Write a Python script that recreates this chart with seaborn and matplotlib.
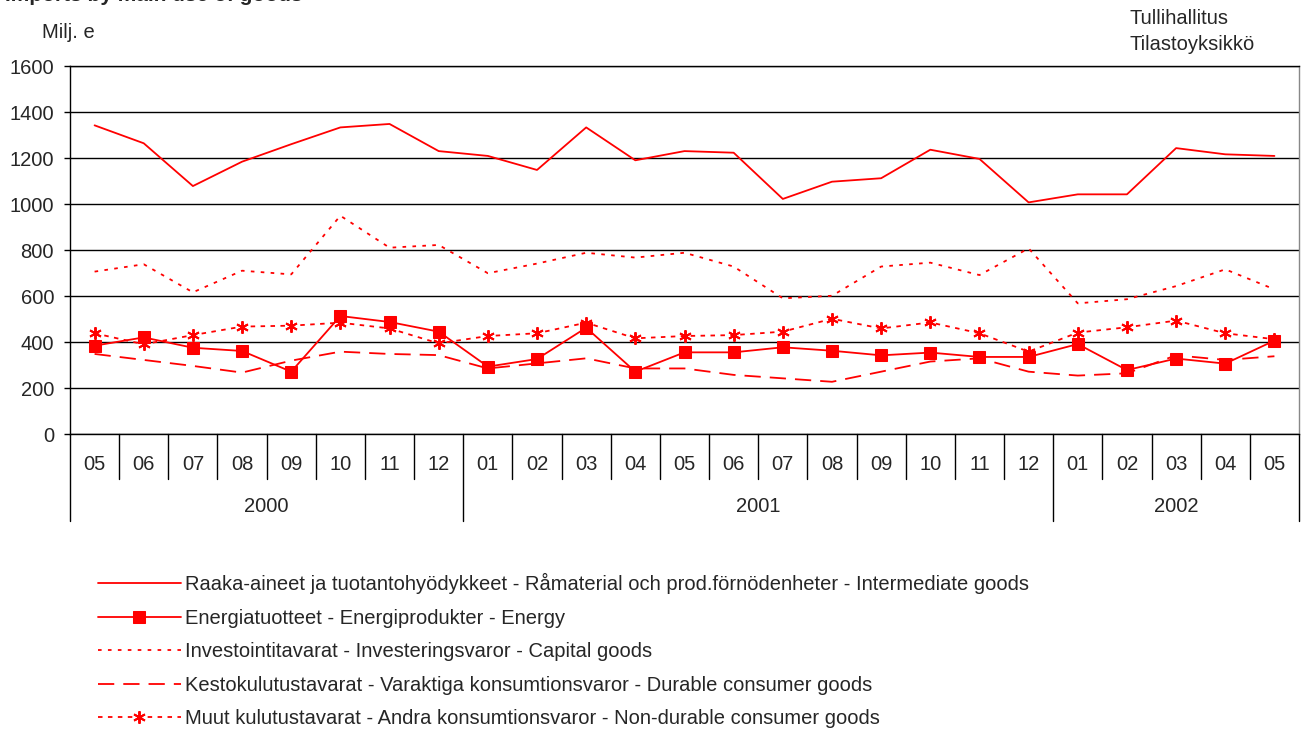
import matplotlib
matplotlib.use("Agg")
import matplotlib.pyplot as plt
import seaborn as sns
import numpy as np
import pandas as pd

months = ["05", "06", "07", "08", "09", "10", "11", "12",
          "01", "02", "03", "04", "05", "06", "07", "08", "09", "10", "11", "12",
          "01", "02", "03", "04", "05"]
years = ["2000", "2001", "2002"]
year_counts = [8, 12, 5]

intermediate = [1342, 1264, 1078, 1184, 1260, 1333, 1348, 1230, 1209, 1148, 1333, 1190,
                1230, 1223, 1022, 1097, 1112, 1236, 1196, 1007, 1042, 1042, 1243, 1216, 1209]
energy = [384, 420, 375, 361, 271, 513, 487, 445, 293, 326, 462, 271,
          355, 355, 377, 362, 342, 354, 335, 335, 391, 278, 328, 306, 406]
capital = [706, 738, 616, 710, 694, 949, 810, 822, 699, 741, 788, 767,
           788, 728, 590, 601, 728, 745, 691, 807, 568, 586, 643, 716, 629]
durable = [348, 322, 296, 267, 319, 358, 348, 343, 285, 307, 329, 285,
           285, 257, 242, 227, 271, 315, 329, 271, 254, 264, 342, 322, 338]
nondurable = [438, 390, 430, 467, 471, 484, 459, 394, 426, 438, 484, 416,
              426, 430, 445, 501, 459, 485, 438, 358, 441, 464, 493, 438, 412]

labels = [
    "Raaka-aineet ja tuotantohyödykkeet - Råmaterial och prod.förnödenheter - Intermediate goods",
    "Energiatuotteet - Energiprodukter - Energy",
    "Investointitavarat - Investeringsvaror - Capital goods",
    "Kestokulutustavarat - Varaktiga konsumtionsvaror - Durable consumer goods",
    "Muut kulutustavarat - Andra konsumtionsvaror - Non-durable consumer goods",
]

sns.set_theme(style="white")
plt.rcParams["font.family"] = ["Liberation Sans", "DejaVu Sans"]
FS = 14.5

W, H = 1308, 729
fig = plt.figure(figsize=(W / 100, H / 100), dpi=100)
x0, x1, ytop, ybot = 70, 1299, 66, 434
ax = fig.add_axes([x0 / W, 1 - ybot / H, (x1 - x0) / W, (ybot - ytop) / H])

xs = np.arange(len(months))
red = "#FF0000"
styles = [
    dict(linestyle="-", marker=None),
    dict(linestyle="-", marker="s", markersize=8),
    dict(linestyle=(0, (2, 3.5)), marker=None),
    dict(linestyle=(0, (9, 5)), marker=None),
    dict(linestyle=(0, (2.5, 3)), marker=(6, 2, 0), markersize=9, markeredgewidth=1.4),
]
series = [intermediate, energy, capital, durable, nondurable]
for vals, lab, st in zip(series, labels, styles):
    sns.lineplot(x=xs, y=vals, ax=ax, color=red, linewidth=1.3, label=lab,
                 markeredgecolor=red, markerfacecolor=red, **st)

ax.set_xlim(-0.5, len(months) - 0.5)
ax.set_ylim(0, 1600)
ax.set_yticks(np.arange(0, 1601, 200))
ax.yaxis.grid(True, color="black", linewidth=1.0)
ax.set_axisbelow(True)
for s in ax.spines.values():
    s.set_color("black")
    s.set_linewidth(1.0)
ax.spines["right"].set_color("#888888")
ax.tick_params(axis="y", direction="out", length=4.5, width=1, color="black",
               pad=7, labelsize=FS, left=True)
ax.set_xticks(xs)
ax.set_xticklabels(months)
ax.tick_params(axis="x", length=0, pad=15, labelsize=FS)
ax.set_xlabel("")
ax.set_ylabel("")

trans = ax.get_xaxis_transform()
axh = ybot - ytop
short = -45 / axh
long = -87 / axh
bounds = np.cumsum([0] + year_counts) - 0.5
for b in np.arange(-0.5, len(months)):
    ln = long if np.any(np.isclose(bounds, b)) else short
    ax.plot([b, b], [0, ln], transform=trans, clip_on=False, color="black", linewidth=1.0)
starts = np.cumsum([0] + year_counts[:-1])
for yr, st_, cnt in zip(years, starts, year_counts):
    ax.text(st_ + (cnt - 1) / 2, -73 / axh, yr, transform=trans, ha="center",
            va="center", fontsize=FS)

leg = ax.legend(loc="upper left", bbox_to_anchor=(98 / W, 1 - 573 / H),
                bbox_transform=fig.transFigure, frameon=False, fontsize=FS,
                handlelength=4.1, labelspacing=0.72, handletextpad=0.2,
                borderaxespad=0, borderpad=0)

fig.text(5 / W, 1 - 1 / H, "Imports by main use of goods", fontsize=15,
         fontweight="bold", ha="left", va="baseline")
fig.text(42 / W, 1 - 32 / H, "Milj. e", fontsize=FS, ha="left", va="center")
fig.text(1130 / W, 1 - 18 / H, "Tullihallitus", fontsize=FS, ha="left", va="center")
fig.text(1130 / W, 1 - 45 / H, "Tilastoyksikkö", fontsize=FS, ha="left", va="center")

fig.savefig("out.png", dpi=100)
